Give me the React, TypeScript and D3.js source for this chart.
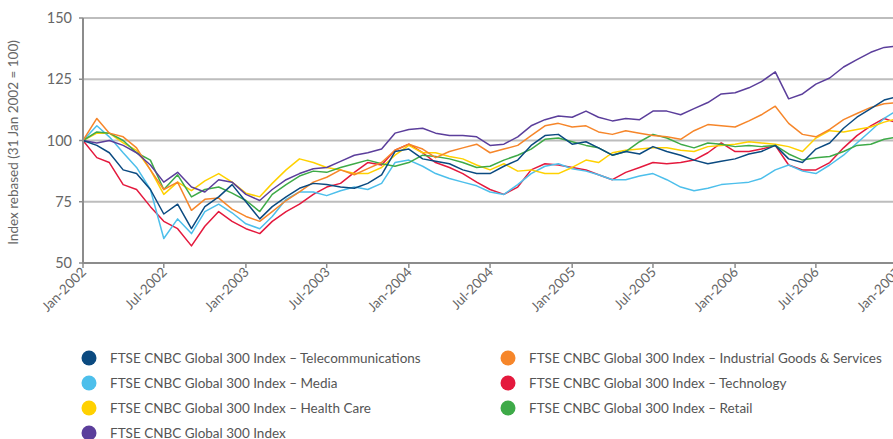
import React from 'react';
import * as d3 from 'd3';

// monthly readings, Jan 2002 .. Jan 2007 (index rebased, 31 Jan 2002 = 100)
const telecom = [100, 98, 95, 88, 86.5, 80, 70, 74, 64, 73, 77, 82, 75, 68, 73, 77, 80.5, 82.5, 82, 81, 80.5, 82.5, 86, 95.5, 96.5, 92.5, 91.5, 90.5, 88, 86.5, 86.5, 89.5, 92, 98, 102, 102.5, 98.5, 99.5, 97, 94, 95.5, 94.5, 97.5, 95.5, 94, 92, 90.5, 91.5, 92.5, 94.5, 95.5, 98, 92.5, 91, 96.5, 99, 105, 109.5, 113, 116.5, 118];
const media = [100, 106, 101.5, 95, 89, 80, 60, 68, 62, 71, 74, 70.5, 66, 64, 69, 76, 79, 79, 77.5, 79.5, 81, 80, 82.5, 91, 92, 89.5, 86.5, 84.5, 83, 81.5, 79, 78, 82, 86.5, 89.5, 90.5, 88.5, 87.5, 86, 84, 84, 85.5, 86.5, 84, 81, 79.5, 80.5, 82, 82.5, 83, 84.5, 88, 90, 87.5, 86.5, 90, 94, 99, 104, 109, 112.5];
const healthCare = [100, 103, 103, 99, 96, 88, 78, 83, 79.5, 83.5, 86.5, 83, 78.5, 77, 82.5, 88, 92.5, 91, 89, 88, 86.5, 86.5, 89, 94, 98, 95, 95, 93.5, 92.5, 90, 88, 90.5, 87.5, 88, 86.5, 86.5, 89, 92, 91, 95, 96, 96.5, 97, 97, 96, 95.5, 97.5, 98, 98.5, 99.5, 99, 98.5, 97.5, 95.5, 101, 104, 103.5, 104.5, 105.5, 107.5, 109];
const index300 = [100, 99, 100, 98, 95, 90, 83, 87, 81, 79, 84, 83, 78, 75.5, 80, 84, 86.5, 88.5, 89, 91.5, 94, 95, 96.5, 103, 104.5, 105, 103, 102, 102, 101.5, 98, 98.5, 101.5, 106, 108.5, 110, 109.5, 112, 109.5, 108, 109, 108.5, 112, 112, 110.5, 113, 115.5, 119, 119.5, 121.5, 124, 128, 117, 119, 123, 125.5, 130, 133, 136, 138, 138.5];
const industrial = [100, 109, 103, 101.5, 97, 88, 80, 83, 71.5, 76, 76.5, 72, 69, 67, 71, 75.5, 79, 83, 85, 88, 86, 88.5, 91, 96, 98.5, 96.5, 93, 95.5, 97, 98.5, 95, 96.5, 98, 102, 106, 107, 105.5, 106, 103.5, 102.5, 104, 103, 102, 101.5, 100.5, 104, 106.5, 106, 105.5, 108, 110.5, 114, 107, 102.5, 101.5, 104.5, 108.5, 111, 113.5, 115, 115.5];
const technology = [100, 93, 91, 82, 80, 73, 67, 64, 57, 65, 71, 67, 64, 62, 67, 71, 74, 78, 81, 82.5, 87, 91, 90, 96, 98.5, 95, 91, 89, 86.5, 83, 80, 78, 81, 88, 90.5, 90, 89, 88, 86, 84, 87, 89, 91, 90.5, 91, 92, 95, 99, 95.5, 95.5, 96.5, 98, 90, 88, 88, 91, 97, 102, 106, 109, 107];
const retail = [100, 103.5, 103, 100, 95, 92, 80, 86, 77, 80, 81, 78.5, 75.5, 71, 78, 82, 85.5, 87.5, 87, 89, 90.5, 92, 90.5, 89.5, 91, 94, 93.5, 92.5, 91, 89, 89.5, 92, 94, 96.5, 100.5, 101, 99.5, 98, 97, 94, 95.5, 99.5, 102.5, 101, 98.5, 97, 99, 98.5, 97.5, 98, 97.5, 98, 94.5, 92, 93, 93.5, 95.5, 98, 98.5, 100.5, 101.5];

const yTicks = [50, 75, 100, 125, 150];
const xTicks = ['2002-01', '2002-07', '2003-01', '2003-07', '2004-01', '2004-07', '2005-01', '2005-07', '2006-01', '2006-07', '2007-01'];

const series = [
  { name: 'FTSE CNBC Global 300 Index – Telecommunications', color: '#0b4a80', values: telecom },
  { name: 'FTSE CNBC Global 300 Index – Media', color: '#4dbfeb', values: media },
  { name: 'FTSE CNBC Global 300 Index – Health Care', color: '#ffd100', values: healthCare },
  { name: 'FTSE CNBC Global 300 Index', color: '#5b3e9b', values: index300 },
  { name: 'FTSE CNBC Global 300 Index – Industrial Goods & Services', color: '#f6862a', values: industrial },
  { name: 'FTSE CNBC Global 300 Index – Technology', color: '#e4193d', values: technology },
  { name: 'FTSE CNBC Global 300 Index – Retail', color: '#3eaa48', values: retail },
];
const drawOrder = [5, 1, 2, 6, 4, 3, 0];

const parseMonth = d3.timeParse('%Y-%m');
const fmtTick = d3.timeFormat('%b-%Y');
const start = parseMonth('2002-01')!;

const App = () => {
  const margin = { left: 83, top: 18, bottom: 263 };
  const x = d3.scaleTime().domain([start, parseMonth('2007-01')!]).range([margin.left, 898]);
  const y = d3.scaleLinear().domain([50, 150]).range([margin.bottom, margin.top]);
  const dateOf = (i: number) => d3.timeMonth.offset(start, i);
  const line = d3.line<number>()
    .x((_, i) => x(dateOf(i)))
    .y(d => y(d));

  const font = 'Lato, "Open Sans", sans-serif';

  return (
    <svg width={893} height={439} style={{ position: 'absolute', left: 0, top: 0, fontFamily: font }}>
      {/* grid */}
      {yTicks.filter(t => t > 50).map(t => (
        <line key={t} x1={margin.left} x2={893} y1={y(t)} y2={y(t)} stroke="#bdbdbd" strokeWidth={2} />
      ))}
      {/* lines */}
      {drawOrder.map(i => (
        <path key={i} d={line(series[i].values) || ''} fill="none" stroke={series[i].color} strokeWidth={1.5} strokeLinejoin="round" />
      ))}
      {/* axes */}
      <line x1={margin.left} x2={margin.left} y1={margin.top} y2={margin.bottom} stroke="#8c8c8c" strokeWidth={2} />
      <line x1={margin.left - 1} x2={893} y1={margin.bottom} y2={margin.bottom} stroke="#8c8c8c" strokeWidth={2} />
      {yTicks.map(t => (
        <g key={t}>
          <line x1={margin.left - 4} x2={margin.left} y1={y(t)} y2={y(t)} stroke="#8c8c8c" strokeWidth={1.5} />
          <text x={72} y={y(t)} dy="0.35em" textAnchor="end" fontSize={14.5} fill="#666">{t}</text>
        </g>
      ))}
      {xTicks.map(s => {
        const d = parseMonth(s)!;
        const px = x(d);
        return (
          <g key={s}>
            <line x1={px} x2={px} y1={margin.bottom} y2={margin.bottom + 5} stroke="#8c8c8c" strokeWidth={1.5} />
            <text transform={`translate(${px + 4},${margin.bottom + 10}) rotate(-45)`} textAnchor="end" fontSize={13.5} fill="#666">
              {fmtTick(d)}
            </text>
          </g>
        );
      })}
      <text transform={`translate(18,${(margin.top + margin.bottom) / 2 + 2}) rotate(-90)`} textAnchor="middle" fontSize={13.5} fill="#666">
        Index rebased (31 Jan 2002 = 100)
      </text>
      {/* legend */}
      {series.map((s, i) => {
        const col = i < 4 ? 0 : 1;
        const row = i < 4 ? i : i - 4;
        const cx = col === 0 ? 89 : 508;
        const cy = 358 + row * 25;
        return (
          <g key={s.name}>
            <circle cx={cx} cy={cy} r={7.5} fill={s.color} />
            <text x={cx + 21} y={cy} dy="0.35em" fontSize={13.5} fill="#555">{s.name}</text>
          </g>
        );
      })}
    </svg>
  );
};

export default App;
